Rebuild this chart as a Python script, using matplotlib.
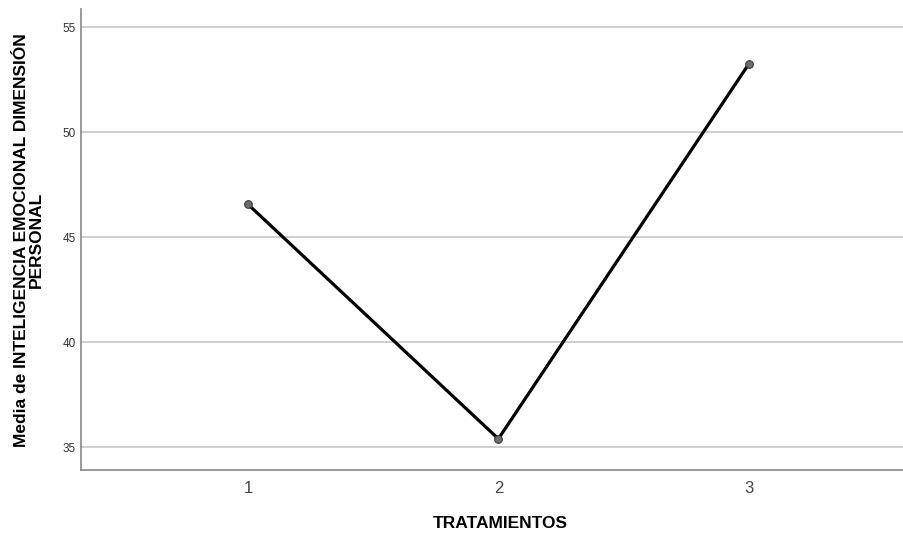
import matplotlib.pyplot as plt

plt.rcParams['font.family'] = ['Liberation Sans', 'DejaVu Sans']

# Data
tratamientos = [1, 2, 3]
medias = [46.57, 35.40, 53.25]
y_ticks = [35, 40, 45, 50, 55]

fig = plt.figure(figsize=(9.04, 5.33), dpi=100)
ax = fig.add_axes([0.0896, 0.1176, 0.9104, 0.865])

# Gridlines
for t in y_ticks:
    ax.axhline(t, color='#cccccc', linewidth=1.3, zorder=1)

# Line and points
ax.plot(tratamientos, medias, color='black', linewidth=2.3, zorder=3)
ax.plot(tratamientos, medias, 'o', markersize=5.5, markerfacecolor='#6e6e6e',
        markeredgecolor='#3a3a3a', markeredgewidth=0.8, zorder=4)

ax.set_xlim(0.333, 3.62)
ax.set_ylim(33.9, 55.86)
ax.set_xticks(tratamientos)
ax.set_xticklabels([str(t) for t in tratamientos])
ax.set_yticks(y_ticks)

ax.tick_params(axis='y', length=0, pad=4, labelsize=8.5, labelcolor='#333333')
ax.tick_params(axis='x', length=0, pad=8, labelsize=12, labelcolor='#444444')

for side in ['top', 'right']:
    ax.spines[side].set_visible(False)
for side in ['left', 'bottom']:
    ax.spines[side].set_color('#888888')
    ax.spines[side].set_linewidth(1.2)

ax.set_ylabel('Media de INTELIGENCIA EMOCIONAL DIMENSIÓN\nPERSONAL',
              fontsize=12.5, fontweight='bold', linespacing=1.0, labelpad=13)
fig.text(500 / 904, 1 - 523 / 533, 'TRATAMIENTOS', ha='center', va='center',
         fontsize=12.5, fontweight='bold')

fig.savefig('out.png', dpi=100)
